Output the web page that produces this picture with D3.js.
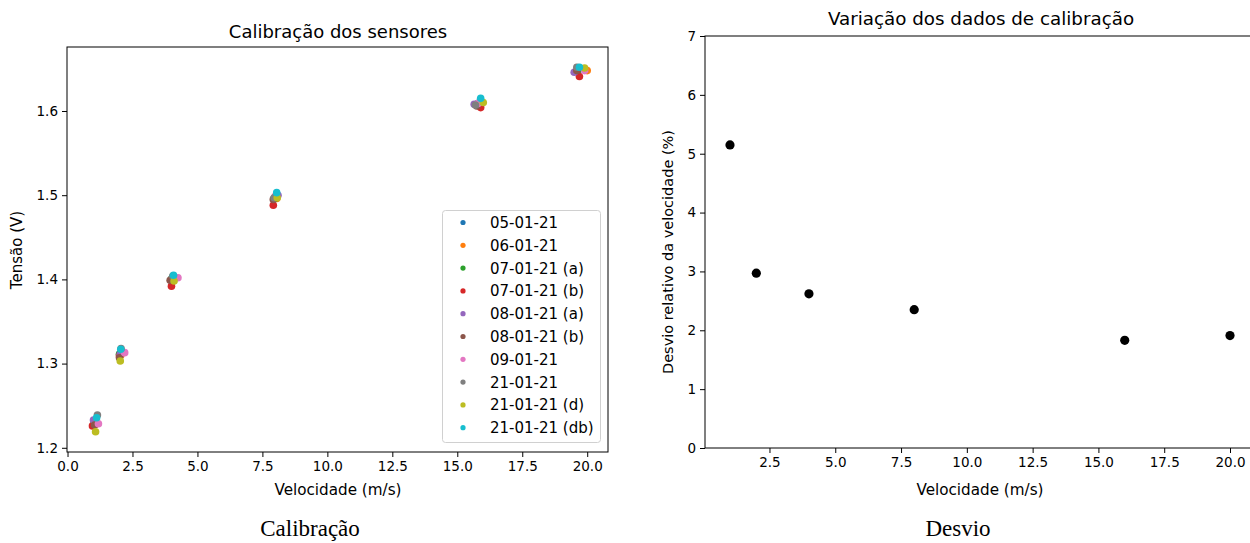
<!DOCTYPE html>
<html>
<head>
<meta charset="utf-8">
<script src="https://cdn.jsdelivr.net/npm/d3@7"></script>
<style>
  body { margin: 0; background: #fff; }
  svg text { font-family: "DejaVu Sans", sans-serif; fill: #000; }
  .cap { font-family: "Liberation Serif", serif; }
</style>
</head>
<body>
<svg id="fig" width="1250" height="543"></svg>
<script>
// legend labels + tab10 colours
var labels = ["05-01-21", "06-01-21", "07-01-21 (a)", "07-01-21 (b)", "08-01-21 (a)",
              "08-01-21 (b)", "09-01-21", "21-01-21", "21-01-21 (d)", "21-01-21 (db)"];
var colors = ["#1f77b4", "#ff7f0e", "#2ca02c", "#d62728", "#9467bd",
              "#8c564b", "#e377c2", "#7f7f7f", "#bcbd22", "#17becf"];

// velocidade (m/s) for each series, one value per step
var vel = [
  [1.05, 2.02, 4.02, 8.00, 15.80, 19.70],
  [1.08, 2.05, 4.05, 8.05, 15.85, 20.00],
  [1.02, 2.00, 4.00, 7.98, 15.75, 19.65],
  [0.96, 2.00, 4.00, 7.92, 15.90, 19.70],
  [1.00, 2.03, 4.05, 8.10, 15.65, 19.50],
  [1.04, 2.00, 3.95, 7.92, 15.75, 19.60],
  [1.19, 2.20, 4.25, 8.00, 15.80, 19.90],
  [1.15, 2.06, 4.05, 7.95, 15.70, 19.60],
  [1.08, 2.03, 4.10, 8.07, 16.00, 19.90],
  [1.12, 2.05, 4.08, 8.05, 15.90, 19.70]
];
// tensao (V) for each series
var tensao = [
  [1.230, 1.312, 1.401, 1.497, 1.609, 1.650],
  [1.228, 1.310, 1.399, 1.496, 1.608, 1.648],
  [1.229, 1.311, 1.400, 1.496, 1.608, 1.649],
  [1.226, 1.309, 1.392, 1.488, 1.604, 1.641],
  [1.233, 1.311, 1.402, 1.500, 1.608, 1.646],
  [1.227, 1.307, 1.399, 1.495, 1.606, 1.648],
  [1.2285, 1.313, 1.402, 1.499, 1.609, 1.648],
  [1.239, 1.318, 1.404, 1.497, 1.607, 1.652],
  [1.219, 1.303, 1.398, 1.497, 1.610, 1.651],
  [1.2356, 1.317, 1.405, 1.503, 1.615, 1.652]
];

// desvio relativo
var velDesvio = [1, 2, 4, 8, 16, 20];
var desvio = [5.15, 2.97, 2.62, 2.35, 1.83, 1.91];

var xTicksL = [0, 2.5, 5, 7.5, 10, 12.5, 15, 17.5, 20];
var yTicksL = [1.2, 1.3, 1.4, 1.5, 1.6];
var xTicksR = [2.5, 5, 7.5, 10, 12.5, 15, 17.5, 20];
var yTicksR = [0, 1, 2, 3, 4, 5, 6, 7];

var svg = d3.select("#fig");
var fmt1 = d3.format(".1f");

function styleAxis(g) {
  g.selectAll("path").attr("stroke", "#000").attr("stroke-width", 1);
  g.selectAll("line").attr("stroke", "#000").attr("stroke-width", 1);
  g.selectAll("text").attr("font-size", 13.5).attr("font-family", "DejaVu Sans").attr("fill", "#000");
}

// ---------- left: calibração ----------
var xL = d3.scaleLinear().domain([-0.02, 20.8]).range([67, 608]);
var yL = d3.scaleLinear().domain([1.195, 1.676]).range([452, 47]);

var left = svg.append("g");
left.append("rect").attr("x", 67).attr("y", 47).attr("width", 541).attr("height", 405)
  .attr("fill", "none").attr("stroke", "#000").attr("stroke-width", 1);

left.append("g").attr("transform", "translate(0,452)")
  .call(d3.axisBottom(xL).tickValues(xTicksL).tickFormat(fmt1).tickSize(5).tickPadding(4))
  .call(styleAxis).call(function(g) { g.select(".domain").remove(); });
left.append("g").attr("transform", "translate(67,0)")
  .call(d3.axisLeft(yL).tickValues(yTicksL).tickFormat(fmt1).tickSize(5).tickPadding(4))
  .call(styleAxis).call(function(g) { g.select(".domain").remove(); });

labels.forEach(function(lab, i) {
  left.append("g").selectAll("circle")
    .data(d3.zip(vel[i], tensao[i]))
    .enter().append("circle")
    .attr("cx", function(d) { return xL(d[0]); })
    .attr("cy", function(d) { return yL(d[1]); })
    .attr("r", 3.8)
    .attr("fill", colors[i]);
});

left.append("text").attr("x", 338).attr("y", 38).attr("text-anchor", "middle")
  .attr("font-size", 18).text("Calibração dos sensores");
left.append("text").attr("x", 338).attr("y", 495).attr("text-anchor", "middle")
  .attr("font-size", 15.2).text("Velocidade (m/s)");
left.append("text").attr("transform", "translate(22,250) rotate(-90)").attr("text-anchor", "middle")
  .attr("font-size", 15).text("Tensão (V)");

// legend
var leg = left.append("g");
leg.append("rect").attr("x", 442.5).attr("y", 210.5).attr("width", 158).attr("height", 232)
  .attr("rx", 3).attr("fill", "#fff").attr("fill-opacity", 0.8)
  .attr("stroke", "#d0d0d0").attr("stroke-width", 1);
var rows = leg.selectAll("g.row").data(labels).enter().append("g")
  .attr("transform", function(d, i) { return "translate(0," + (222.5 + i * 22.8) + ")"; });
rows.append("circle").attr("cx", 463).attr("cy", 0).attr("r", 2.6)
  .attr("fill", function(d, i) { return colors[i]; });
rows.append("text").attr("x", 490).attr("y", 5.5).attr("font-size", 15).text(function(d) { return d; });

// ---------- right: desvio ----------
var xR = d3.scaleLinear().domain([0.05, 20.95]).range([705, 1255]);
var yR = d3.scaleLinear().domain([0, 7]).range([448, 36]);

var right = svg.append("g");
right.append("rect").attr("x", 705).attr("y", 36).attr("width", 550).attr("height", 412)
  .attr("fill", "none").attr("stroke", "#000").attr("stroke-width", 1);

right.append("g").attr("transform", "translate(0,448)")
  .call(d3.axisBottom(xR).tickValues(xTicksR).tickFormat(fmt1).tickSize(5).tickPadding(4))
  .call(styleAxis).call(function(g) { g.select(".domain").remove(); });
right.append("g").attr("transform", "translate(705,0)")
  .call(d3.axisLeft(yR).tickValues(yTicksR).tickFormat(d3.format("d")).tickSize(5).tickPadding(4))
  .call(styleAxis).call(function(g) { g.select(".domain").remove(); });

right.append("g").selectAll("circle")
  .data(d3.zip(velDesvio, desvio))
  .enter().append("circle")
  .attr("cx", function(d) { return xR(d[0]); })
  .attr("cy", function(d) { return yR(d[1]); })
  .attr("r", 4.6)
  .attr("fill", "#000");

right.append("text").attr("x", 981).attr("y", 25).attr("text-anchor", "middle")
  .attr("font-size", 18.3).text("Variação dos dados de calibração");
right.append("text").attr("x", 980).attr("y", 495).attr("text-anchor", "middle")
  .attr("font-size", 15.2).text("Velocidade (m/s)");
right.append("text").attr("transform", "translate(673,252) rotate(-90)").attr("text-anchor", "middle")
  .attr("font-size", 14.5).text("Desvio relativo da velocidade (%)");

// captions
svg.append("text").attr("class", "cap").attr("x", 310).attr("y", 536).attr("text-anchor", "middle")
  .attr("font-size", 23).text("Calibração");
svg.append("text").attr("class", "cap").attr("x", 958).attr("y", 536).attr("text-anchor", "middle")
  .attr("font-size", 23).text("Desvio");
</script>
</body>
</html>
